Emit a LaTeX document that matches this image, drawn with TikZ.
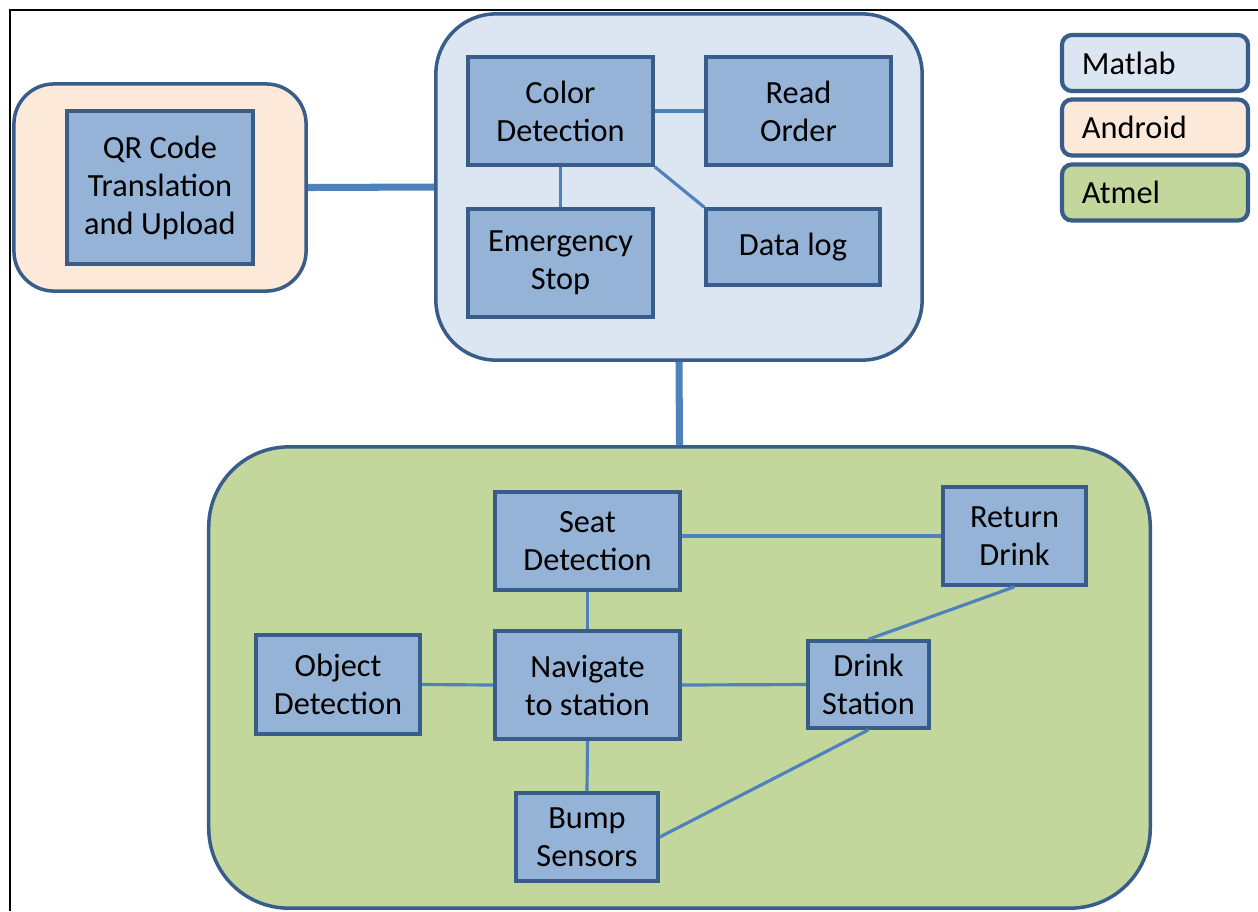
\documentclass[tikz,border=0pt]{standalone}
\usepackage{fontspec}
\setmainfont{Carlito}
\usepackage{tikz}
\definecolor{boxblue}{RGB}{149,179,215}
\definecolor{edgeblue}{RGB}{56,93,138}
\definecolor{linkblue}{RGB}{79,129,189}
\definecolor{matlabbg}{RGB}{220,230,242}
\definecolor{androidbg}{RGB}{253,233,218}
\definecolor{atmelbg}{RGB}{195,214,155}

\begin{document}
\begin{tikzpicture}[x=0.01cm, y=-0.01cm,
    task/.style={draw=edgeblue, fill=boxblue, line width=1pt, align=center,
        font=\fontsize{9.2}{10.8}\selectfont, inner sep=0pt},
    group/.style={draw=edgeblue, line width=1pt, inner sep=0pt},
    legend/.style={draw=edgeblue, line width=1.2pt, rounded corners=0.1cm,
        minimum height=0.56cm, text width=1.46cm, inner xsep=0.2cm, align=left,
        font=\fontsize{9.2}{10.8}\selectfont},
    link/.style={linkblue, line width=0.9pt},
    bus/.style={linkblue, line width=2pt}]
    \useasboundingbox (0,0) rectangle (1258,911);
    % Frame
    \draw[black, line width=0.8pt] (10,911) -- (10,10) -- (1258,10);

    % Groups
    \node[group, fill=androidbg, rounded corners=0.4cm, minimum width=2.92cm, minimum height=2.07cm] (android) at (160,187.5) {};
    \node[group, fill=matlabbg, rounded corners=0.6cm, minimum width=4.86cm, minimum height=3.46cm] (matlab) at (679,187) {};
    \node[group, fill=atmelbg, rounded corners=0.8cm, minimum width=9.41cm, minimum height=4.61cm] (atmel) at (679.5,677.5) {};

    % Links between groups
    \draw[bus] (android.east) -- (matlab.west);
    \draw[bus] (matlab.south) -- (atmel.north);

    % Android
    \node[task, minimum width=1.86cm, minimum height=1.53cm] (qr) at (160,187.5) {QR Code\\Translation\\and Upload};

    % Matlab
    \node[task, minimum width=1.85cm, minimum height=1.08cm] (color) at (560.5,111) {Color\\Detection};
    \node[task, minimum width=1.85cm, minimum height=1.08cm] (order) at (798.5,111) {Read\\Order};
    \node[task, minimum width=1.85cm, minimum height=1.08cm] (estop) at (560.5,263) {Emergency\\Stop};
    \node[task, minimum width=1.74cm, minimum height=0.76cm] (datalog) at (793,247) {Data log};
    \draw[link] (color.east) -- (order.west);
    \draw[link] (color.south) -- (estop.north);
    \draw[link] (color.south east) -- (datalog.north west);

    % Atmel
    \node[task, minimum width=1.85cm, minimum height=0.98cm] (seat) at (587.5,541) {Seat\\Detection};
    \node[task, minimum width=1.43cm, minimum height=0.98cm] (return) at (1014.5,536) {Return\\Drink};
    \node[task, minimum width=1.64cm, minimum height=0.99cm] (object) at (338,684.5) {Object\\Detection};
    \node[task, minimum width=1.85cm, minimum height=1.08cm] (nav) at (587.5,685) {Navigate\\to station};
    \node[task, minimum width=1.21cm, minimum height=0.87cm] (drink) at (868.5,684.5) {Drink\\Station};
    \node[task, minimum width=1.42cm, minimum height=0.88cm] (bump) at (587,837) {Bump\\Sensors};
    \draw[link] (seat.east |- return.west) -- (return.west);
    \draw[link] (seat.south) -- (nav.north);
    \draw[link] (object.east) -- (nav.west);
    \draw[link] (nav.east) -- (drink.west);
    \draw[link] (return.south) -- (drink.north);
    \draw[link] (drink.south) -- (bump.east);
    \draw[link] (nav.south) -- (bump.north);

    % Legend
    \node[legend, fill=matlabbg] (keymatlab) at (1155,63) {Matlab};
    \node[legend, fill=androidbg] (keyandroid) at (1155,127.5) {Android};
    \node[legend, fill=atmelbg] (keyatmel) at (1155,192.5) {Atmel};
\end{tikzpicture}
\end{document}
